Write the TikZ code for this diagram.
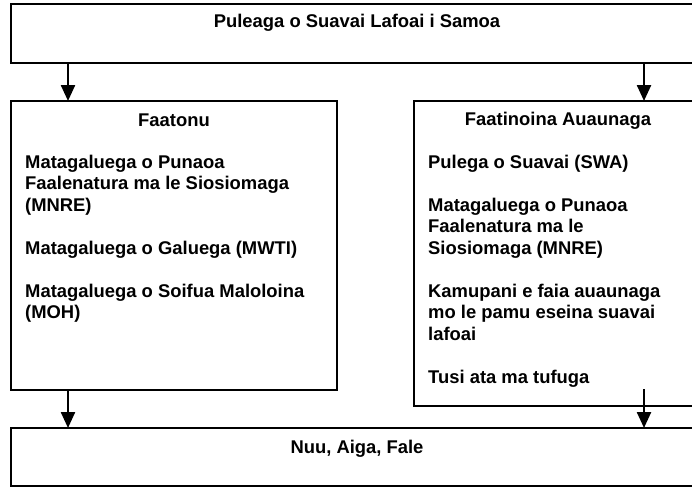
\documentclass[tikz,border=0pt]{standalone}
\usepackage{fontspec}
\setmainfont{Liberation Sans}
\usetikzlibrary{arrows.meta}
\begin{document}
\begin{tikzpicture}[x=1pt,y=1pt,
  box/.style={draw, line width=2pt, rectangle, inner sep=0pt, outer sep=0pt, anchor=north west},
  arr/.style={line width=2.4pt, -{Triangle[length=16pt,width=14pt]}},
  txt/.style={font=\bfseries\fontsize{18.4}{21.5}\selectfont, inner sep=0pt, anchor=base west},
  ctxt/.style={txt, anchor=base}]
\useasboundingbox (0,0) rectangle (692,-487);
\clip (0,0) rectangle (692,-487);
% boxes
\node[box, minimum width=692pt, minimum height=58.5pt] (top) at (11,-4.5) {};
\node[box, minimum width=326pt, minimum height=289pt] (left) at (11,-101) {};
\node[box, minimum width=289pt, minimum height=305pt] (right) at (414,-101) {};
\node[box, minimum width=692pt, minimum height=58pt] (bottom) at (11,-428) {};
% texts
\node[ctxt] (t0) at (357,-28) {Puleaga o Suavai Lafoai i Samoa};
\node[ctxt] (lh) at (174,-126) {Faatonu};
\node[txt] (l1) at (25,-168) {Matagaluega o Punaoa};
\node[txt] (l2) at (25,-189.5) {Faalenatura ma le Siosiomaga};
\node[txt] (l3) at (25,-211) {(MNRE)};
\node[txt] (l4) at (25,-254) {Matagaluega o Galuega (MWTI)};
\node[txt] (l5) at (25,-297) {Matagaluega o Soifua Maloloina};
\node[txt] (l6) at (25,-318.5) {(MOH)};
\node[ctxt] (rh) at (558,-125) {Faatinoina Auaunaga};
\node[txt] (r1) at (428,-168) {Pulega o Suavai (SWA)};
\node[txt] (r2) at (428,-211) {Matagaluega o Punaoa};
\node[txt] (r3) at (428,-232.5) {Faalenatura ma le};
\node[txt] (r4) at (428,-254) {Siosiomaga (MNRE)};
\node[txt] (r5) at (428,-297) {Kamupani e faia auaunaga};
\node[txt] (r6) at (428,-318.5) {mo le pamu eseina suavai};
\node[txt] (r7) at (428,-340) {lafoai};
\node[txt] (r8) at (428,-383) {Tusi ata ma tufuga};
\node[ctxt] (b0) at (357,-453) {Nuu, Aiga, Fale};
% connectors
\coordinate (ax1) at (68,0);
\coordinate (ax2) at (644,0);
\coordinate (rs) at (644,-389);
\draw[arr] (top.south -| ax1) -- (left.north -| ax1);
\draw[arr] (top.south -| ax2) -- (right.north -| ax2);
\draw[arr] (left.south -| ax1) -- (bottom.north -| ax1);
\draw[arr] (rs) -- (bottom.north -| ax2);
\end{tikzpicture}
\end{document}
